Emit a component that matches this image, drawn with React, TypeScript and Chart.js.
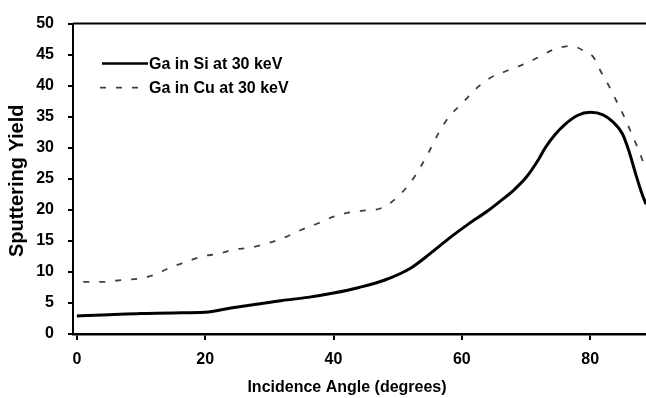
import React, { useEffect, useRef } from "react";
import { Chart, registerables } from "chart.js";

Chart.register(...registerables);

// Incidence angle (degrees) and sputtering yield for Ga ions into Si at 30 keV
const siAngles = [0, 5, 10, 15, 20, 24, 28, 32, 36, 40, 44, 48, 52, 55, 58, 61, 64, 66, 68, 70, 72, 73, 74.5, 76, 78, 80, 82, 83.5, 85, 86, 87, 88, 88.7];
const siYield = [2.9, 3.1, 3.3, 3.4, 3.5, 4.2, 4.8, 5.4, 5.9, 6.6, 7.5, 8.7, 10.6, 12.9, 15.4, 17.7, 19.8, 21.4, 23.1, 25.2, 28.2, 30.0, 32.1, 33.7, 35.2, 35.7, 35.3, 34.2, 32.3, 29.6, 26.1, 22.8, 20.9];

// Incidence angle (degrees) and sputtering yield for Ga ions into Cu at 30 keV
const cuAngles = [1, 4, 7, 9.5, 12, 14.5, 17, 19.5, 22, 24.5, 27, 30, 32.5, 35, 37.5, 40, 42.5, 45, 47.5, 50, 52, 53.5, 55, 56.5, 58, 60, 62, 64, 67, 69.5, 72, 74, 77, 79.5, 80.5, 81.7, 83, 84.3, 85.4, 86.4, 87.4, 88.7];
const cuYield = [8.4, 8.4, 8.7, 8.9, 9.5, 10.7, 11.6, 12.5, 12.9, 13.6, 13.9, 14.7, 15.6, 16.8, 17.8, 18.9, 19.6, 19.9, 20.3, 22.1, 24.4, 26.8, 29.6, 32.6, 35.0, 37.1, 39.3, 41.0, 42.4, 43.4, 44.6, 45.7, 46.4, 45.3, 44.6, 42.2, 39.8, 37.1, 34.8, 32.4, 30.0, 26.5];

const seriesLabels = ["Ga in Si at 30 keV", "Ga in Cu at 30 keV"];
const xTickValues = [0, 20, 40, 60, 80];
const xTitle = "Incidence Angle (degrees)";
const yTitle = "Sputtering Yield";

const FONT = "'Liberation Sans', Arial, sans-serif";
const SOLID_COLOR = "#000000";
const DASH_COLOR = "#3f3f3f";
const DASH = [6, 10];

const toPoints = (xs: number[], ys: number[]) => xs.map((x, i) => ({ x, y: ys[i] }));

// Frame top edge, inset legend and axis titles
const decorations = {
  id: "decorations",
  afterDraw(chart: any) {
    const { ctx, chartArea } = chart;
    const { left, right, top } = chartArea;
    ctx.save();

    // top frame line
    ctx.strokeStyle = "#000";
    ctx.lineWidth = 2;
    ctx.beginPath();
    ctx.moveTo(left, top);
    ctx.lineTo(right, top);
    ctx.stroke();

    // legend
    const rows = [
      { y: top + 40, dash: [] as number[], color: SOLID_COLOR, width: 2.5, x0: left + 29, x1: left + 75 },
      { y: top + 64, dash: DASH, color: DASH_COLOR, width: 1.8, x0: left + 27, x1: left + 70 },
    ];
    ctx.font = `bold 16px ${FONT}`;
    ctx.textBaseline = "middle";
    ctx.textAlign = "left";
    rows.forEach((r, i) => {
      ctx.strokeStyle = r.color;
      ctx.lineWidth = r.width;
      ctx.setLineDash(r.dash);
      ctx.beginPath();
      ctx.moveTo(r.x0, r.y);
      ctx.lineTo(r.x1, r.y);
      ctx.stroke();
      ctx.setLineDash([]);
      ctx.fillStyle = "#000";
      ctx.fillText(seriesLabels[i], left + 76, r.y + 1);
    });

    // x-axis title
    ctx.font = `bold 16px ${FONT}`;
    ctx.textAlign = "center";
    ctx.fillText(xTitle, 347, 388);

    // y-axis title
    ctx.font = `bold 20px ${FONT}`;
    ctx.translate(17, (chartArea.top + chartArea.bottom) / 2 + 2);
    ctx.rotate(-Math.PI / 2);
    ctx.fillText(yTitle, 0, 0);

    ctx.restore();
  },
};

export default function App() {
  const canvasRef = useRef<HTMLCanvasElement | null>(null);

  useEffect(() => {
    if (!canvasRef.current) return;
    const chart = new Chart(canvasRef.current, {
      type: "line",
      data: {
        datasets: [
          {
            label: seriesLabels[0],
            data: toPoints(siAngles, siYield),
            borderColor: SOLID_COLOR,
            borderWidth: 3,
            pointRadius: 0,
            cubicInterpolationMode: "monotone",
            fill: false,
          },
          {
            label: seriesLabels[1],
            data: toPoints(cuAngles, cuYield),
            borderColor: DASH_COLOR,
            borderWidth: 1.8,
            borderDash: DASH,
            pointRadius: 0,
            cubicInterpolationMode: "monotone",
            fill: false,
          },
        ],
      },
      options: {
        animation: false,
        responsive: false,
        layout: { padding: { top: 19, right: 0, left: 0, bottom: 0 } },
        plugins: { legend: { display: false }, tooltip: { enabled: false } },
        scales: {
          x: {
            type: "linear",
            min: -0.6,
            max: 88.7,
            afterBuildTicks: (scale: any) => {
              scale.ticks = xTickValues.map((v) => ({ value: v }));
            },
            afterFit: (scale: any) => {
              scale.height = 64;
            },
            grid: { drawOnChartArea: false, drawTicks: true, tickLength: 6, color: "#000", lineWidth: 2 },
            border: { display: true, color: "#000", width: 2.5 },
            ticks: { color: "#000", font: { family: FONT, size: 16, weight: "bold" }, padding: 10, maxRotation: 0 },
          },
          y: {
            min: 0,
            max: 50,
            afterFit: (scale: any) => {
              scale.width = 73;
            },
            grid: { drawOnChartArea: false, drawTicks: true, tickLength: 5, color: "#000", lineWidth: 2 },
            border: { display: true, color: "#000", width: 2 },
            ticks: { stepSize: 5, color: "#000", font: { family: FONT, size: 16, weight: "bold" }, padding: 14 },
          },
        },
      },
      plugins: [decorations],
    });
    return () => chart.destroy();
  }, []);

  return (
    <div style={{ position: "fixed", left: 0, top: 0, width: 646, height: 398, background: "#fff" }}>
      <canvas ref={canvasRef} width={646} height={398} style={{ display: "block" }} />
    </div>
  );
}
